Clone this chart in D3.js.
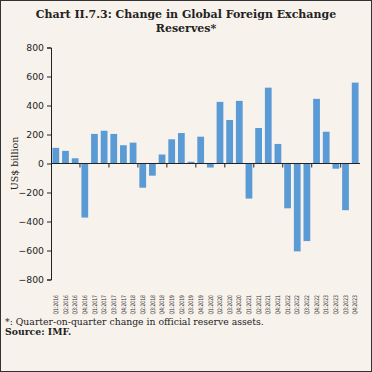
<!DOCTYPE html>
<html>
<head>
<meta charset="utf-8">
<script src="https://cdn.jsdelivr.net/npm/d3@7"></script>
<style>
  html, body { margin: 0; padding: 0; background: #f8f2ed; }
  svg { display: block; }
</style>
</head>
<body>
<div id="chart"></div>
<script>
const quarters = [
  'Q1:2016', 'Q2:2016', 'Q3:2016', 'Q4:2016',
  'Q1:2017', 'Q2:2017', 'Q3:2017', 'Q4:2017',
  'Q1:2018', 'Q2:2018', 'Q3:2018', 'Q4:2018',
  'Q1:2019', 'Q2:2019', 'Q3:2019', 'Q4:2019',
  'Q1:2020', 'Q2:2020', 'Q3:2020', 'Q4:2020',
  'Q1:2021', 'Q2:2021', 'Q3:2021', 'Q4:2021',
  'Q1:2022', 'Q2:2022', 'Q3:2022', 'Q4:2022',
  'Q1:2023', 'Q2:2023', 'Q3:2023', 'Q4:2023'
];
// US$ billion
const reserveChange = [
  108, 87, 36, -373,
  204, 226, 204, 126,
  144, -167, -84, 62,
  167, 210, 12, 185,
  -28, 425, 300, 432,
  -242, 245, 523, 135,
  -309, -606, -535, 446,
  219, -36, -322, 558
];
const yTicks = [-800, -600, -400, -200, 0, 200, 400, 600, 800];
const titleLines = ['Chart II.7.3: Change in Global Foreign Exchange', 'Reserves*'];
const yLabel = 'US$ billion';
const notes = [
  { text: '*: Quarter-on-quarter change in official reserve assets.', bold: false },
  { text: 'Source: IMF.', bold: true }
];

const width = 372;
const height = 372;
const plot = { left: 51, right: 360, top: 47.5, bottom: 279.5 };

const svg = d3.select('#chart')
  .append('svg')
  .attr('width', width)
  .attr('height', height);

svg.append('rect')
  .attr('x', 0.5).attr('y', 0.5)
  .attr('width', width - 1).attr('height', height - 1)
  .attr('fill', '#f8f2ed')
  .attr('stroke', '#333')
  .attr('stroke-width', 1);

// title
svg.append('g')
  .selectAll('text')
  .data(titleLines)
  .enter()
  .append('text')
  .attr('x', 186)
  .attr('y', (d, i) => 18 + i * 13.5)
  .attr('text-anchor', 'middle')
  .style('font-family', '"DejaVu Serif", serif')
  .style('font-weight', 'bold')
  .style('font-size', '11px')
  .style('fill', '#222')
  .text(d => d);

const x = d3.scaleBand()
  .domain(quarters)
  .range([plot.left, plot.right])
  .paddingInner(0.3)
  .paddingOuter(0.15);

const y = d3.scaleLinear()
  .domain([-800, 800])
  .range([plot.bottom, plot.top]);

// y axis
const yAxis = svg.append('g')
  .attr('transform', `translate(${plot.left},0)`)
  .call(d3.axisLeft(y).tickValues(yTicks).tickSize(4).tickSizeOuter(4).tickPadding(3));
yAxis.select('.domain').attr('stroke', '#222');
yAxis.selectAll('.tick line').attr('stroke', '#222');
yAxis.selectAll('.tick text')
  .style('font-family', '"DejaVu Sans", sans-serif')
  .style('font-size', '9.3px')
  .style('fill', '#222');

svg.append('text')
  .attr('transform', `translate(18,${y(0)}) rotate(-90)`)
  .attr('text-anchor', 'middle')
  .style('font-family', '"DejaVu Serif", serif')
  .style('font-size', '9.5px')
  .style('fill', '#222')
  .text(yLabel);

// bars
svg.append('g')
  .selectAll('rect')
  .data(reserveChange)
  .enter()
  .append('rect')
  .attr('x', (d, i) => x(quarters[i]))
  .attr('width', x.bandwidth())
  .attr('y', d => y(Math.max(0, d)))
  .attr('height', d => Math.abs(y(d) - y(0)))
  .attr('fill', '#5b9bd5');

// zero line with ticks every third quarter
const step = x.step();
const tickIdx = d3.range(3, quarters.length, 3);
const zero = svg.append('g');
zero.append('line')
  .attr('x1', plot.left).attr('x2', plot.right)
  .attr('y1', y(0)).attr('y2', y(0))
  .attr('stroke', '#222');
zero.selectAll('line.qt')
  .data(tickIdx)
  .enter()
  .append('line')
  .attr('class', 'qt')
  .attr('x1', d => plot.left + d * step)
  .attr('x2', d => plot.left + d * step)
  .attr('y1', y(0)).attr('y2', y(0) + 4)
  .attr('stroke', '#222');

// quarter labels below the plot
svg.append('g')
  .selectAll('text')
  .data(quarters)
  .enter()
  .append('text')
  .attr('transform', d => `translate(${x(d) + x.bandwidth() / 2 + 2.2},295) rotate(-90)`)
  .attr('text-anchor', 'end')
  .attr('textLength', 19.5)
  .attr('lengthAdjust', 'spacingAndGlyphs')
  .style('font-family', '"DejaVu Sans", sans-serif')
  .style('font-size', '6.2px')
  .style('fill', '#333')
  .text(d => d);

// notes
svg.append('g')
  .selectAll('text')
  .data(notes)
  .enter()
  .append('text')
  .attr('x', 5)
  .attr('y', (d, i) => 324.5 + i * 10.5)
  .style('font-family', '"DejaVu Serif", serif')
  .style('font-size', '9.3px')
  .style('font-weight', d => d.bold ? 'bold' : 'normal')
  .style('fill', '#222')
  .text(d => d.text);
</script>
</body>
</html>
